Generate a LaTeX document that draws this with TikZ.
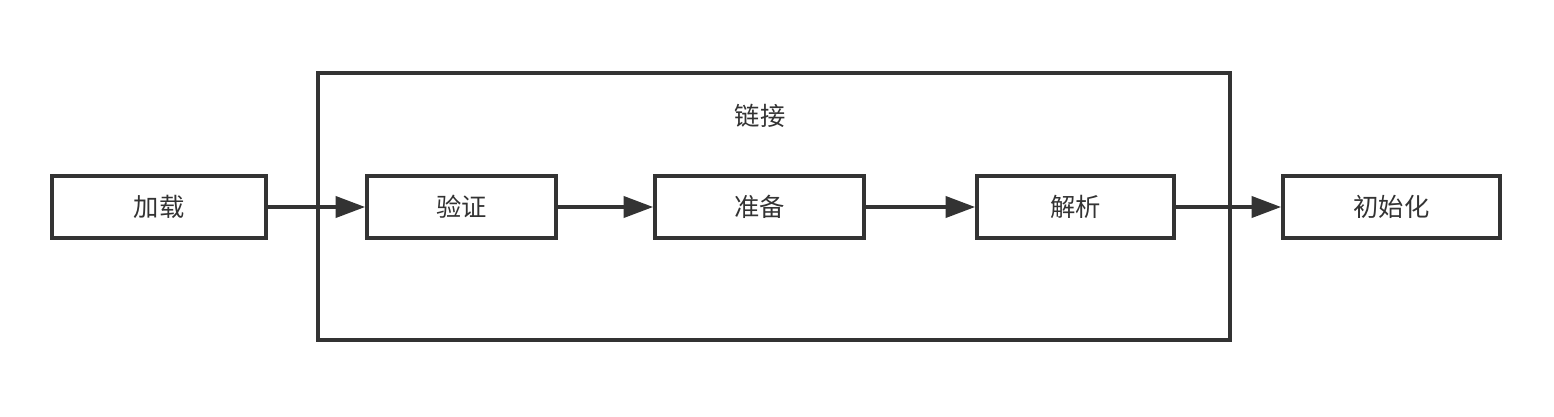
\documentclass[tikz,border=0pt]{standalone}
\usepackage{fontspec}
\newfontfamily\cjk{Noto Sans CJK SC}
\usetikzlibrary{arrows.meta}
\definecolor{edge}{HTML}{333333}
\tikzset{every picture/.append style={scale=1}}
\tikzset{
  stage/.style={draw=edge, line width=2.6pt, minimum height=1.55cm, inner sep=0pt,
    font=\cjk\fontsize{18}{20}\selectfont, text=edge},
  flow/.style={draw=edge, line width=2.6pt, -{Triangle[length=21pt,width=15pt]}},
}

\begin{document}
\begin{tikzpicture}[x=0.025cm, y=-0.025cm]
  \useasboundingbox (0,0) rectangle (1554,416);
  \draw[edge, line width=2.6pt] (318,73) rectangle (1230,340);
  \node[font=\cjk\fontsize{18}{20}\selectfont, text=edge] (link) at(760,116){链接};
  \node[stage, minimum width=5.35cm] (load) at(159,207){\raisebox{-1pt}{加载}};
  \node[stage, minimum width=4.725cm] (verify) at(461.5,207){\raisebox{-1pt}{验证}};
  \node[stage, minimum width=5.225cm] (prepare) at(759.5,207){\raisebox{-1pt}{准备}};
  \node[stage, minimum width=4.925cm] (resolve) at(1075.5,207){\raisebox{-1pt}{解析}};
  \node[stage, minimum width=5.425cm] (init) at(1391.5,207){\raisebox{-1pt}{初始化}};
  \draw[flow] (load) -- (verify);
  \draw[flow] (verify) -- (prepare);
  \draw[flow] (prepare) -- (resolve);
  \draw[flow] (resolve) -- (init);
\end{tikzpicture}
\end{document}
